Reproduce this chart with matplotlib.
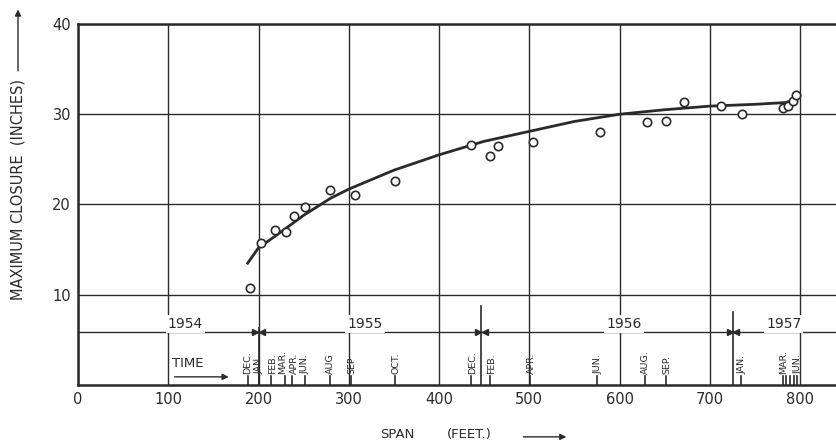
import numpy as np
import matplotlib
matplotlib.use("Agg")
import matplotlib.pyplot as plt

# measured points (span in feet, closure in inches)
span = [191, 203, 218, 230, 239, 252, 279, 307, 351, 436, 456, 465, 504, 578,
        630, 652, 671, 713, 736, 781, 787, 792, 796]
closure = [10.8, 15.7, 17.2, 17.0, 18.7, 19.7, 21.6, 21.0, 22.6, 26.6, 25.4, 26.5, 26.9, 28.0,
           29.1, 29.3, 31.4, 30.9, 30.0, 30.7, 30.9, 31.5, 32.1]

# fitted curve
curve_x = [188, 200, 220, 250, 280, 300, 350, 400, 450, 500, 550, 600, 650, 700, 750, 785, 792, 797]
curve_y = [13.5, 15.2, 16.6, 18.8, 20.7, 21.7, 23.8, 25.5, 27.0, 28.1, 29.2, 30.0, 30.5, 30.9, 31.1, 31.3, 31.6, 32.0]

# time scale along the bottom
month_x = [188, 200, 214, 229, 237, 251, 279, 302, 351,
           436, 457, 501, 575, 628, 652, 735, 781, 785, 789, 793, 797]
month_lbl = ["DEC.", "JAN.", "FEB.", "MAR.", "APR.", "JUN.", "AUG", "SEP", "OCT.",
             "DEC.", "FEB.", "APR.", "JUN.", "AUG.", "SEP.", "JAN.", "MAR.", "", "", "", "JUN."]
year_x = [119, 318, 605, 782]
year_lbl = ["1954", "1955", "1956", "1957"]
year_bounds = [200, 447, 726]
bound_top = [6.3, 8.7, 8.1]
time_y = 5.9

ink = "#2a2a2a"

fig = plt.figure(figsize=(8.37, 4.46), dpi=100)
ax = fig.add_axes([0.0932, 0.1368, 0.9068, 0.8094])
ax.set_xlim(0, 841)
ax.set_ylim(0, 40)

ax.set_xticks(np.arange(0, 801, 100))
ax.set_yticks([10, 20, 30, 40])
ax.grid(True, color=ink, lw=1.0)
ax.tick_params(length=0, labelsize=10.5, colors=ink, pad=5)
for s in ["left", "top", "bottom"]:
    ax.spines[s].set_color(ink)
    ax.spines[s].set_linewidth(1.8)
ax.spines["right"].set_visible(False)

ax.plot(curve_x, curve_y, color=ink, lw=2.0, zorder=4)
ax.plot(span, closure, "o", mfc="white", mec=ink, mew=1.2, ms=6, zorder=5)

# time line
ax.axhline(time_y, color=ink, lw=1.0, zorder=2)
nudge = {"MAR.": -2.0, "APR.": 2.5, "FEB.": 1.5, "DEC.": 0}
for x, lb in zip(month_x, month_lbl):
    ax.plot([x, x], [0, 1.0], color=ink, lw=1.2, zorder=3)
    if lb:
        dx = nudge.get(lb, 1) if x < 260 else 1
        ax.text(x + dx, 1.2, lb, rotation=90, ha="center", va="bottom",
                fontsize=6.8, color=ink, zorder=6)
for x, t in zip(year_bounds, bound_top):
    ax.plot([x, x], [0, t], color=ink, lw=1.2, zorder=3)
    ax.plot([x - 3.5], [time_y], marker=">", color=ink, ms=4, zorder=6)
    ax.plot([x + 3.5], [time_y], marker="<", color=ink, ms=4, zorder=6)
for x, lb in zip(year_x, year_lbl):
    ax.text(x, time_y + 0.1, lb, ha="center", va="bottom", fontsize=10, color=ink,
            bbox=dict(facecolor="white", edgecolor="none", pad=1.5), zorder=5)

ax.text(104, 1.7, "TIME", ha="left", va="bottom", fontsize=9.5, color=ink)
ax.annotate("", xy=(170, 0.9), xytext=(104, 0.9),
            arrowprops=dict(arrowstyle="-|>", color=ink, lw=1.0, mutation_scale=9))

fig.text(0.0215, 0.574, "MAXIMUM CLOSURE  (INCHES)", rotation=90, ha="center", va="center",
         fontsize=10.5, color=ink)
fig.patches.append(matplotlib.patches.FancyArrowPatch(
    (0.0215, 0.835), (0.0215, 0.985), transform=fig.transFigure, arrowstyle="-|>",
    color=ink, lw=1.0, mutation_scale=9))

fig.text(0.454, 0.025, "SPAN", ha="left", va="center", fontsize=9.5, color=ink)
fig.text(0.534, 0.025, "(FEET.)", ha="left", va="center", fontsize=9.5, color=ink)
fig.patches.append(matplotlib.patches.FancyArrowPatch(
    (0.622, 0.0205), (0.68, 0.0205), transform=fig.transFigure, arrowstyle="-|>",
    color=ink, lw=1.0, mutation_scale=9))

fig.savefig("out.png", dpi=100, facecolor="white")
